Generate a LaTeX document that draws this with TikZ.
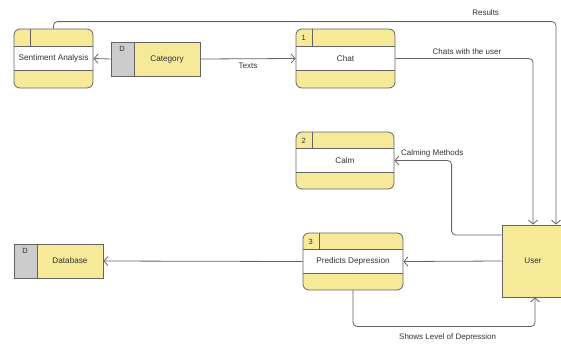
\documentclass[tikz,border=0pt]{standalone}
\usepackage{fontspec}
\setmainfont{Liberation Sans}
\usetikzlibrary{arrows.meta, positioning, calc}

\definecolor{dfdyellow}{RGB}{246,234,153}
\definecolor{dfdgray}{RGB}{204,204,204}
\definecolor{dfdline}{RGB}{100,100,100}
\definecolor{dfdtext}{RGB}{51,51,51}

\begin{document}
\begin{tikzpicture}[x=1pt, y=1pt,
  proc/.style={draw=dfdline, fill=dfdyellow, rounded corners=6pt, line width=0.8pt,
    minimum width=99pt, minimum height=58pt, inner sep=0pt, text=dfdtext,
    font=\fontsize{8.2}{9}\selectfont,
    path picture={
      \fill[white, sharp corners] ([yshift=12pt]path picture bounding box.west) rectangle ([yshift=-12pt]path picture bounding box.east);
      \draw[dfdline, line width=0.8pt, sharp corners]
        ([yshift=12pt]path picture bounding box.west) -- ([yshift=12pt]path picture bounding box.east)
        ([yshift=-12pt]path picture bounding box.west) -- ([yshift=-12pt]path picture bounding box.east)
        ([xshift=16pt]path picture bounding box.north west) -- ++(0,-17);
    },
    label={[anchor=center, xshift=8pt, yshift=-9pt, font=\fontsize{7.5}{8}\selectfont, text=dfdtext]north west:#1}},
  store/.style={draw=dfdline, fill=dfdyellow, line width=0.8pt,
    minimum width=89pt, minimum height=34pt, inner sep=0pt, text=dfdtext,
    font=\fontsize{8.2}{9}\selectfont, execute at begin node={\hspace*{23pt}},
    path picture={
      \fill[dfdgray] (path picture bounding box.north west) rectangle ([xshift=23pt]path picture bounding box.south west);
      \draw[dfdline, line width=0.8pt] ([xshift=23pt]path picture bounding box.north west) -- ([xshift=23pt]path picture bounding box.south west);
    },
    label={[anchor=center, xshift=11.5pt, yshift=-7pt, font=\fontsize{7.5}{8}\selectfont, text=dfdtext]north west:D}},
  entity/.style={draw=dfdline, fill=dfdyellow, line width=0.8pt, minimum width=62pt,
    minimum height=72pt, text=dfdtext, font=\fontsize{8.2}{9}\selectfont},
  flow/.style={draw=dfdline, line width=0.8pt, rounded corners=4pt,
    -{Straight Barb[length=4pt, width=9pt]}},
  lbl/.style={font=\fontsize{8}{9}\selectfont, text=dfdtext}]

\useasboundingbox (0,0) rectangle (561,-343);

% processes, stores and the external entity
\node[proc={}, minimum width=79pt, minimum height=59pt] (sent) at (53.5,-58.5) {Sentiment Analysis};
\node[store] (cat) at (155.5,-59) {Category};
\node[proc=1, minimum height=59pt] (chat) at (345.5,-58.5) {Chat};
\node[proc=2, minimum width=98pt, minimum height=57pt] (calm) at (345,-160.5) {Calm};
\node[proc=3, minimum width=100pt, minimum height=57pt] (pred) at (353,-261.5) {Predicts Depression};
\node[store] (db) at (58.5,-261) {Database};
\node[entity] (user) at (533,-261) {User};

% data flows
\draw[flow] (cat.west) -- (sent.east);
\draw[flow] (cat.east) -- node[lbl, below=1pt] {Texts} (chat.west);
\draw[flow] (sent.north) -- ++(0,7) -| node[lbl, pos=0.43, above=2pt] {Results} ([xshift=23pt]user.north);
\draw[flow] (chat.east) -| node[lbl, pos=0.26, above=0pt] {Chats with the user} (user.north);
\draw[flow] ([yshift=26pt]user.west) -- ++(-50,0) |- node[lbl, pos=0.67, above=0pt] {Calming Methods} (calm.east);
\draw[flow] (user.west) -- (pred.east);
\draw[flow] (pred.west) -- (db.east);
\draw[flow] (pred.south) -- ++(0,-36) -| node[lbl, pos=0.26, below=4pt] {Shows Level of Depression} ([xshift=2pt]user.south);
\end{tikzpicture}
\end{document}
